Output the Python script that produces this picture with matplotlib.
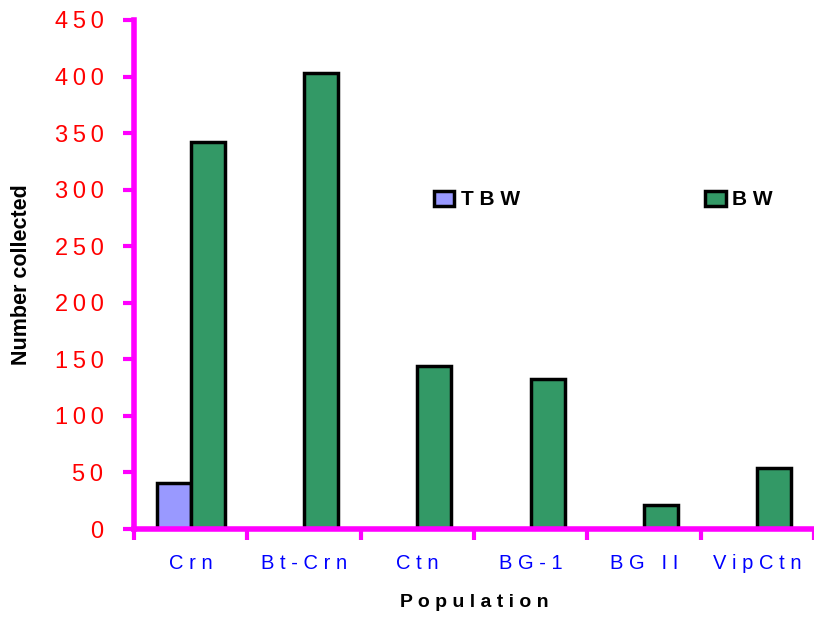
import numpy as np
import matplotlib.pyplot as plt

plt.rcParams["font.family"] = ["Liberation Sans", "DejaVu Sans"]

# number collected per population
populations = ["Crn", "Bt-Crn", "Ctn", "BG-1", "BG II", "VipCtn"]
tbw = [41, 0, 0, 0, 0, 0]
bw = [342, 403, 144, 133, 21, 54]
yticks = [0, 50, 100, 150, 200, 250, 300, 350, 400, 450]

MAG = "#FF00FF"


def spaced(s, sep=" "):
    # spread letters out
    return sep.join(s)


fig = plt.figure(figsize=(8.14, 6.17), dpi=100)
ax = fig.add_axes([0.1646, 0.1426, 0.8354, 0.825])

x = np.arange(len(populations))
w = 0.3
tbw_x = [i for i, v in zip(x, tbw) if v > 0]
tbw_v = [v for v in tbw if v > 0]
ax.bar(np.array(tbw_x) - w, tbw_v, width=w, align="edge", color="#9999FF",
       edgecolor="black", linewidth=2.5, label=spaced("TBW"), zorder=3)
ax.bar(x, bw, width=w, align="edge", color="#339966",
       edgecolor="black", linewidth=2.5, label=spaced("BW"), zorder=3)

ax.set_xlim(-0.5, 5.47)
ax.set_ylim(0, 450)

for s in ["top", "right"]:
    ax.spines[s].set_visible(False)
for s in ["left", "bottom"]:
    ax.spines[s].set_color(MAG)
    ax.spines[s].set_linewidth(4)
    ax.spines[s].set_zorder(4)

ax.set_yticks(yticks)
ax.set_yticklabels([spaced(str(t), "\u2009") for t in yticks], color="red", fontsize=17)
ax.tick_params(axis="y", direction="out", length=8, width=3, color=MAG, pad=14)

ax.set_xticks(x)
ax.set_xticklabels([spaced(p) for p in populations], color="#0000FF", fontsize=14.5)
ax.tick_params(axis="x", which="major", length=0, pad=18)
ax.set_xticks(np.arange(-0.5, 6, 1), minor=True)
ax.tick_params(axis="x", which="minor", direction="out", length=8, width=3, color=MAG)

ax.set_ylabel("Number collected", fontsize=15.5, fontweight="bold", labelpad=16)
ax.set_xlabel(spaced("Population"), fontsize=14, fontweight="bold", labelpad=15)

ax.legend(loc="center", bbox_to_anchor=(0.741, 0.676), bbox_transform=fig.transFigure,
          ncol=2, frameon=False, prop={"weight": "bold", "size": 15},
          handlelength=1.0, handleheight=0.75, handletextpad=0.3, columnspacing=8.9)

fig.savefig("out.png", dpi=100)
